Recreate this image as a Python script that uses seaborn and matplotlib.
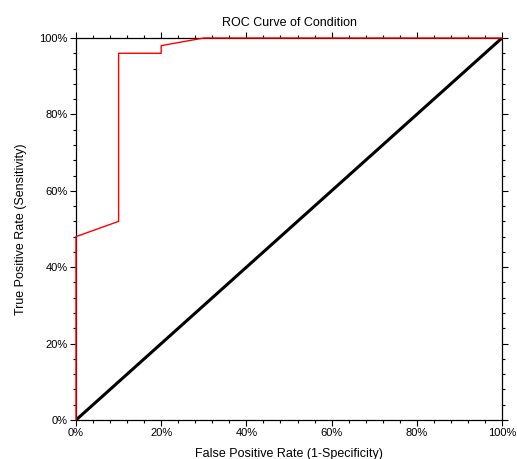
import matplotlib
matplotlib.use("Agg")
import matplotlib.pyplot as plt
import seaborn as sns
import pandas as pd
from matplotlib.ticker import MultipleLocator, PercentFormatter

# ROC curve points (False Positive Rate, True Positive Rate)
fpr = [0.0, 0.0, 0.10, 0.10, 0.20, 0.20, 0.30, 1.0]
tpr = [0.0, 0.48, 0.52, 0.96, 0.96, 0.98, 1.0, 1.0]
diag_x = [0.0, 1.0]
diag_y = [0.0, 1.0]

title = "ROC Curve of Condition"
xlabel = "False Positive Rate (1-Specificity)"
ylabel = "True Positive Rate (Sensitivity)"

sns.set_style("ticks")
plt.rcParams['font.family'] = ['Liberation Sans', 'DejaVu Sans']

fig = plt.figure(figsize=(5.17, 4.59), dpi=100)
ax = fig.add_axes([76/517, 1-420/459, (502-76)/517, (420-38)/459])

roc = pd.DataFrame({"fpr": fpr, "tpr": tpr})
diag = pd.DataFrame({"x": diag_x, "y": diag_y})

sns.lineplot(data=diag, x="x", y="y", sort=False, estimator=None, color="black",
             linewidth=2.2, ax=ax)
sns.lineplot(data=roc, x="fpr", y="tpr", sort=False, estimator=None, color="#ff0000",
             linewidth=1.0, ax=ax, zorder=3, clip_on=False)

ax.set_xlim(0, 1)
ax.set_ylim(0, 1)
ax.xaxis.set_major_locator(MultipleLocator(0.2))
ax.yaxis.set_major_locator(MultipleLocator(0.2))
ax.xaxis.set_minor_locator(MultipleLocator(0.04))
ax.yaxis.set_minor_locator(MultipleLocator(0.04))
ax.xaxis.set_major_formatter(PercentFormatter(1.0, decimals=0))
ax.yaxis.set_major_formatter(PercentFormatter(1.0, decimals=0))

for s in ax.spines.values():
    s.set_visible(True)
    s.set_color("black")
    s.set_linewidth(0.9)

ax.tick_params(which="both", direction="out", top=True, right=True,
               labeltop=False, labelright=False, color="black", width=0.8)
ax.tick_params(which="major", length=4, labelsize=8, pad=2, labelcolor="black")
ax.tick_params(which="minor", length=2)

ax.set_xlabel(xlabel, fontsize=9, labelpad=7, color="black")
ax.set_ylabel(ylabel, fontsize=9, labelpad=9, color="black")
ax.set_title(title, fontsize=9, pad=9, color="black")

fig.savefig("out.png", dpi=100)
